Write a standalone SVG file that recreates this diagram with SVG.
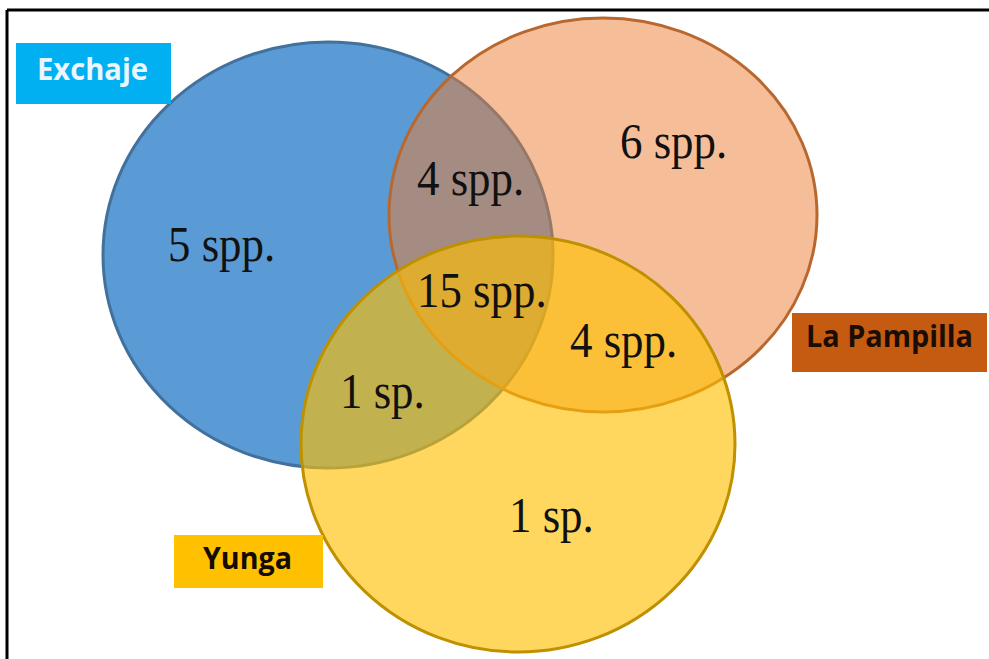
<svg xmlns="http://www.w3.org/2000/svg" width="989" height="659" viewBox="0 0 989 659">
<style>
.num{font-family:"Liberation Serif","Times New Roman",serif;font-size:51px;fill:#111}
.lab{font-family:"Open Sans","Noto Sans",sans-serif;font-weight:bold;font-size:31px}
</style>
<rect x="0" y="0" width="989" height="659" fill="#fff"/>
<g id="frame" stroke="#000" stroke-width="3" fill="none">
<line x1="7" y1="10" x2="989" y2="10"/>
<line x1="7" y1="10" x2="7" y2="659"/>
</g>
<g id="exchaje-set">
<ellipse cx="328" cy="255" rx="225" ry="213" fill="#5B9BD5" stroke="#41719C" stroke-width="3"/>
</g>
<g id="pampilla-set">
<ellipse cx="603" cy="215" rx="214" ry="197" fill="#ED7D31" fill-opacity="0.5" stroke="#B8682F" stroke-width="3"/>
</g>
<g id="yunga-set">
<ellipse cx="518" cy="444" rx="217" ry="208" fill="#FFC000" fill-opacity="0.63" stroke="#BF9000" stroke-width="3"/>
</g>
<g id="counts">
<text class="num" transform="translate(168,261) scale(0.88,1)">5 spp.</text>
<text class="num" transform="translate(417,195) scale(0.88,1)">4 spp.</text>
<text class="num" transform="translate(620,158) scale(0.88,1)">6 spp.</text>
<text class="num" transform="translate(417,307) scale(0.88,1)">15 spp.</text>
<text class="num" transform="translate(570,357) scale(0.88,1)">4 spp.</text>
<text class="num" transform="translate(340,408) scale(0.88,1)">1 sp.</text>
<text class="num" transform="translate(509,532) scale(0.88,1)">1 sp.</text>
</g>
<g id="label-exchaje">
<rect x="16" y="43" width="155" height="61" fill="#00B0F0"/>
<text class="lab" x="37" y="80" fill="#EAF6FC" textLength="111" lengthAdjust="spacingAndGlyphs">Exchaje</text>
</g>
<g id="label-pampilla">
<rect x="792" y="313" width="195" height="59" fill="#C55A11"/>
<text class="lab" x="806" y="347" fill="#1A0D05" textLength="167" lengthAdjust="spacingAndGlyphs">La Pampilla</text>
</g>
<g id="label-yunga">
<rect x="174" y="535" width="149" height="53" fill="#FFC000"/>
<text class="lab" x="203" y="569" fill="#140C00" textLength="89" lengthAdjust="spacingAndGlyphs">Yunga</text>
</g>
</svg>
